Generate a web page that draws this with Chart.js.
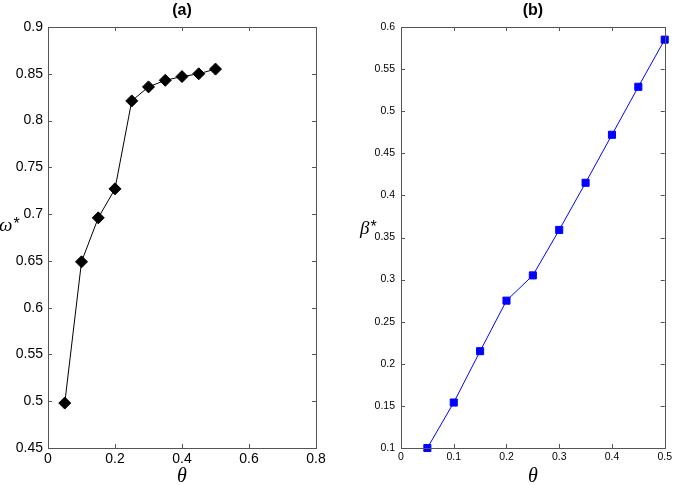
<!DOCTYPE html>
<html>
<head>
<meta charset="utf-8">
<script src="https://cdn.jsdelivr.net/npm/chart.js@4.4.0/dist/chart.umd.min.js"></script>
<style>
  body { margin: 0; background: #fff; }
  .panel { position: absolute; top: 0; }
</style>
</head>
<body>
<div class="panel" style="left:0"><canvas id="chartA" width="337" height="485"></canvas></div>
<div class="panel" style="left:337px"><canvas id="chartB" width="338" height="485"></canvas></div>
<script>
// dados
const theta = [0.05, 0.1, 0.15, 0.2, 0.25, 0.3, 0.35, 0.4, 0.45, 0.5];
const omegaStar = [0.498, 0.649, 0.696, 0.727, 0.821, 0.836, 0.843, 0.847, 0.850, 0.855];
const betaStar = [0.100, 0.154, 0.215, 0.275, 0.305, 0.359, 0.415, 0.472, 0.529, 0.585];

const xTicksA = [0, 0.2, 0.4, 0.6, 0.8];
const xLabelsA = ['0', '0.2', '0.4', '0.6', '0.8'];
const yTicksA = [0.45, 0.5, 0.55, 0.6, 0.65, 0.7, 0.75, 0.8, 0.85, 0.9];
const yLabelsA = ['0.45', '0.5', '0.55', '0.6', '0.65', '0.7', '0.75', '0.8', '0.85', '0.9'];

const xTicksB = [0, 0.1, 0.2, 0.3, 0.4, 0.5];
const xLabelsB = ['0', '0.1', '0.2', '0.3', '0.4', '0.5'];
const yTicksB = [0.1, 0.15, 0.2, 0.25, 0.3, 0.35, 0.4, 0.45, 0.5, 0.55, 0.6];
const yLabelsB = ['0.1', '0.15', '0.2', '0.25', '0.3', '0.35', '0.4', '0.45', '0.5', '0.55', '0.6'];

const SANS = '"Liberation Sans", Arial, Helvetica, sans-serif';
const SERIF = '"Liberation Serif", "Times New Roman", serif';

// caixa estilo MATLAB com ticks para dentro e rótulo do eixo y na horizontal
const boxPlugin = {
  id: 'matlabBox',
  afterDraw(chart, args, opts) {
    const ctx = chart.ctx;
    const a = chart.chartArea;
    const L = 4;
    ctx.save();
    ctx.strokeStyle = '#555';
    ctx.lineWidth = 1;
    ctx.strokeRect(Math.round(a.left) + 0.5, Math.round(a.top) + 0.5,
      Math.round(a.right - a.left), Math.round(a.bottom - a.top));
    ctx.beginPath();
    chart.scales.x.ticks.forEach(t => {
      const px = Math.round(chart.scales.x.getPixelForValue(t.value)) + 0.5;
      ctx.moveTo(px, a.bottom); ctx.lineTo(px, a.bottom - L);
      ctx.moveTo(px, a.top); ctx.lineTo(px, a.top + L);
    });
    chart.scales.y.ticks.forEach(t => {
      const py = Math.round(chart.scales.y.getPixelForValue(t.value)) + 0.5;
      ctx.moveTo(a.left, py); ctx.lineTo(a.left + L, py);
      ctx.moveTo(a.right, py); ctx.lineTo(a.right - L, py);
    });
    ctx.stroke();

    // rótulo do eixo y
    ctx.fillStyle = '#000';
    ctx.textBaseline = 'alphabetic';
    ctx.textAlign = 'left';
    ctx.font = 'italic 19px ' + SERIF;
    ctx.fillText(opts.text, opts.x, opts.y);
    const w = ctx.measureText(opts.text).width;
    ctx.font = '16px ' + SANS;
    ctx.fillText('*', opts.x + w + 1, opts.y - 2);
    ctx.restore();
  }
};

function criarPainel(id, titulo, yValores, cor, estilo, raio, xTicks, xLabels, yTicks, yLabels,
                     padRight, yWidth, tickFont, yPad, xPad, rotulo) {
  const ctx = document.getElementById(id).getContext('2d');
  return new Chart(ctx, {
    type: 'scatter',
    data: {
      datasets: [{
        data: theta.map((t, i) => ({ x: t, y: yValores[i] })),
        showLine: true,
        borderColor: cor,
        borderWidth: 1,
        backgroundColor: cor,
        pointStyle: estilo,
        pointRadius: raio,
        pointBorderWidth: 1,
        pointBorderColor: cor,
        clip: false
      }]
    },
    options: {
      responsive: false,
      animation: false,
      layout: { padding: { top: 0, right: padRight, bottom: 0, left: 0 } },
      plugins: {
        legend: { display: false },
        tooltip: { enabled: false },
        title: {
          display: true,
          text: titulo,
          fullSize: false,
          color: '#000',
          font: { family: SANS, size: 16, weight: 'bold', lineHeight: 1.2 },
          padding: { top: 1, bottom: 6.8 }
        },
        matlabBox: rotulo
      },
      scales: {
        x: {
          type: 'linear',
          min: xTicks[0],
          max: xTicks[xTicks.length - 1],
          afterBuildTicks: s => { s.ticks = xTicks.map(v => ({ value: v })); },
          afterFit: s => { s.height = 37; },
          grid: { display: false, drawTicks: false },
          border: { display: false },
          ticks: {
            padding: xPad,
            color: '#000',
            font: { family: SANS, size: tickFont },
            maxRotation: 0,
            autoSkip: false,
            callback: (v, i) => xLabels[i]
          },
          title: {
            display: true,
            text: 'θ',
            color: '#000',
            font: { family: SERIF, size: 20, style: 'italic', lineHeight: 0.8 },
            padding: 0
          }
        },
        y: {
          type: 'linear',
          min: yTicks[0],
          max: yTicks[yTicks.length - 1],
          afterBuildTicks: s => { s.ticks = yTicks.map(v => ({ value: v })); },
          afterFit: s => { s.width = yWidth; },
          grid: { display: false, drawTicks: false },
          border: { display: false },
          ticks: {
            padding: yPad,
            color: '#000',
            font: { family: SANS, size: tickFont },
            autoSkip: false,
            callback: (v, i) => yLabels[i]
          }
        }
      }
    },
    plugins: [boxPlugin]
  });
}

criarPainel('chartA', '(a)', omegaStar, '#000', 'rectRot', 6,
  xTicksA, xLabelsA, yTicksA, yLabelsA, 21, 48, 14, 5, 3,
  { text: 'ω', x: -1, y: 231 });

criarPainel('chartB', '(b)', betaStar, '#0000ff', 'rect', 5,
  xTicksB, xLabelsB, yTicksB, yLabelsB, 7, 64, 10.5, 6, 3,
  { text: 'β', x: 23, y: 234 });
</script>
</body>
</html>
